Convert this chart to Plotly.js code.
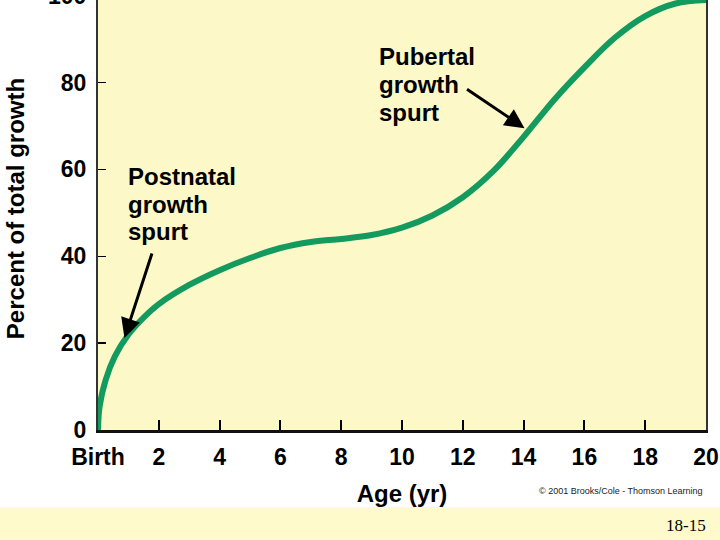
<!DOCTYPE html>
<html>
<head>
<meta charset="utf-8">
<script src="https://cdn.plot.ly/plotly-3.0.1.min.js"></script>
<style>
html, body { margin:0; padding:0; width:720px; height:540px; overflow:hidden; background:#ffffff; }
#chart { position:absolute; left:0; top:-20px; width:720px; height:560px; }
</style>
</head>
<body>
<div id="chart"></div>
<script>
// Data
const ageYears = [0, 0.05, 0.25, 0.55, 1, 1.5, 2, 3, 4, 5, 6, 7, 8, 9, 10, 11, 12, 13, 14, 15, 16, 17, 18, 19, 20];
const percentGrowth = [0, 5.3, 11.5, 16.9, 22, 25.9, 29, 33.4, 36.8, 39.6, 41.9, 43.3, 44.0, 44.9, 46.6, 49.4, 53.6, 59.6, 67.5, 76, 83.5, 90.3, 95.3, 98.2, 99];
const xTickVals = [0, 2, 4, 6, 8, 10, 12, 14, 16, 18, 20];
const xTickText = ['Birth', '2', '4', '6', '8', '10', '12', '14', '16', '18', '20'];
const yTickVals = [0, 20, 40, 60, 80, 100];
const postnatalLines = ['Postnatal', 'growth', 'spurt'];
const pubertalLines = ['Pubertal', 'growth', 'spurt'];

const FONT = 'Liberation Sans, Arial, Helvetica, sans-serif';
const bold = (size) => ({family: FONT, size: size, color: '#000000', weight: 'bold'});

// page-pixel helpers (div is shifted up by 20 px; plot area 98..706 x 7..450 in div)
const px = (x) => (x - 98) / 608;
const py = (y) => (450 - (y + 20)) / 443;

const annotations = [];
const postY = [58.4, 52.0, 45.6];
postnatalLines.forEach((t, i) => annotations.push({
  x: 0.92, y: postY[i], xref: 'x', yref: 'y', text: t, showarrow: false,
  xanchor: 'left', yanchor: 'middle', font: bold(24)
}));
const pubY = [86.1, 79.6, 73.2];
pubertalLines.forEach((t, i) => annotations.push({
  x: 9.18, y: pubY[i], xref: 'x', yref: 'y', text: t, showarrow: false,
  xanchor: 'left', yanchor: 'middle', font: bold(24)
}));
annotations.push({x: 0.87, y: 21.2, xref: 'x', yref: 'y', text: '', showarrow: true,
  ax: 28, ay: -86, arrowhead: 2, arrowsize: 1.3, arrowwidth: 3, arrowcolor: '#000000', standoff: 0});
annotations.push({x: 14.03, y: 69.5, xref: 'x', yref: 'y', text: '', showarrow: true,
  ax: -59, ay: -40, arrowhead: 2, arrowsize: 1.3, arrowwidth: 3, arrowcolor: '#000000', standoff: 0});
annotations.push({x: px(705), y: py(490.5), xref: 'paper', yref: 'paper', text: '© 2001 Brooks/Cole - Thomson Learning',
  showarrow: false, xanchor: 'right', yanchor: 'middle', font: {family: FONT, size: 9, color: '#222222'}});
annotations.push({x: px(708), y: py(525), xref: 'paper', yref: 'paper', text: '18-15',
  showarrow: false, xanchor: 'right', yanchor: 'middle', font: {family: 'Liberation Serif, Times New Roman, serif', size: 17, color: '#000000'}});

const trace = {
  x: ageYears, y: percentGrowth, type: 'scatter', mode: 'lines',
  line: {color: '#139A5E', width: 6, shape: 'spline', smoothing: 1},
  hoverinfo: 'skip'
};

const layout = {
  width: 720, height: 560,
  margin: {l: 98, r: 14, t: 7, b: 110, pad: 0},
  paper_bgcolor: '#ffffff',
  plot_bgcolor: '#FDF8C7',
  showlegend: false,
  xaxis: {
    range: [0, 20], tickvals: xTickVals, ticktext: xTickText,
    ticks: 'inside', ticklen: 10, tickwidth: 2, tickcolor: '#000000',
    showgrid: false, zeroline: false,
    showline: true, linecolor: '#111111', linewidth: 3, mirror: true,
    tickfont: bold(23), ticklabelstandoff: 4,
    title: {text: 'Age (yr)', font: bold(24), standoff: 17}
  },
  yaxis: {
    range: [0, 102], tickvals: yTickVals,
    ticks: 'inside', ticklen: 8, tickwidth: 1.5, tickcolor: '#000000',
    showgrid: false, zeroline: false,
    showline: true, linecolor: '#333333', linewidth: 2, mirror: true,
    tickfont: bold(23), ticklabelstandoff: 5,
    title: {text: 'Percent of total growth', font: bold(24), standoff: 17}
  },
  shapes: [{
    type: 'rect', xref: 'paper', yref: 'paper', layer: 'below',
    x0: -0.3, x1: 1.2, y0: -0.3, y1: py(507),
    fillcolor: '#FFFACB', line: {width: 0}
  }],
  annotations: annotations
};

Plotly.newPlot('chart', [trace], layout, {displayModeBar: false, staticPlot: true});
</script>
</body>
</html>
